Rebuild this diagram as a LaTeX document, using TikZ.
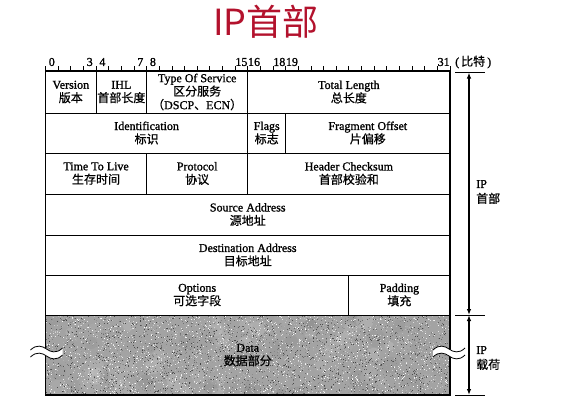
\documentclass[tikz,border=0pt]{standalone}
\usepackage{fontspec}
\setmainfont{Liberation Serif}[FakeBold=1.2]
\newfontfamily\zhfont{Noto Sans CJK SC}[FakeBold=0.6]
\newfontfamily\titlefont{Noto Sans CJK SC}
\usetikzlibrary{arrows.meta}
\definecolor{titlered}{HTML}{B3122D}

% Chinese text inside a cell
\newcommand\zhtxt[1]{{\zhfont #1}}

% one header field: name, first bit, end bit, top y, bottom y, text
\newcommand\fieldcell[6]{%
  \pgfmathsetmacro\fxa{45.5+12.64*#2}%
  \pgfmathsetmacro\fxb{45.5+12.64*#3}%
  \pgfmathsetmacro\fw{\fxb-\fxa}%
  \pgfmathsetmacro\fh{#5-#4}%
  \pgfmathsetmacro\fcx{(\fxa+\fxb)/2}%
  \pgfmathsetmacro\fcy{(#4+#5)/2}%
  \node[field, minimum width=\fw pt, minimum height=\fh pt] (#1) at (\fcx,\fcy) {#6};%
}

% wavy break mark centred on a border line
\newcommand\breakmark[2]{%
  \begin{scope}[shift={(#1,#2)}]
    \fill[white] (-16,-2) .. controls (-10,-8) and (-4,-6) .. (0,-3)
      .. controls (4,0) and (10,2) .. (16,-4) -- (16,3)
      .. controls (10,9) and (4,7) .. (0,4)
      .. controls (-4,1) and (-10,-1) .. (-16,5) -- cycle;
    \draw[wave] (-16,-2) .. controls (-10,-8) and (-4,-6) .. (0,-3)
      .. controls (4,0) and (10,2) .. (16,-4);
    \draw[wave] (-16,5) .. controls (-10,-1) and (-4,1) .. (0,4)
      .. controls (4,7) and (10,9) .. (16,3);
  \end{scope}%
}

\begin{document}
\begin{tikzpicture}[x=1pt,y=-1pt,
  field/.style={draw, line width=0.8pt, inner sep=0pt, align=center,
    font=\fontsize{12}{13.5}\selectfont},
  outer/.style={draw, line width=1.8pt},
  wave/.style={line width=0.8pt},
  tick/.style={line width=0.8pt},
  bitnum/.style={font=\fontsize{12}{12}\selectfont, inner sep=0pt},
  side/.style={font=\fontsize{12}{15}\selectfont, align=left, inner sep=0pt, anchor=west},
  bar/.style={line width=0.9pt},
  span/.style={line width=1.3pt, {Latex[length=6pt,width=4.5pt]}-{Latex[length=6pt,width=4.5pt]}}
]
\useasboundingbox (0,0) rectangle (569,413);

% title
\node[text=titlered, font=\titlefont\fontsize{36}{36}\selectfont, inner sep=0pt] (title) at (266,22) {IP首部};

% bit ruler
\foreach \n in {0,...,32}{
  \pgfmathsetmacro\tx{45.5+12.64*\n}
  \draw[tick] (\tx,71) -- (\tx,66);
}
\foreach \n in {0,3,4,7,8,15,16,18,19,31}{
  \pgfmathsetmacro\tx{45.5+12.64*(\n+0.5)}
  \node[bitnum] (bit\n) at (\tx,62) {\n};
}
\node[font=\fontsize{12}{12}\selectfont, inner sep=0pt, anchor=west] (unit) at (455,62) {(\,\zhtxt{比特}\,)};

% data area with speckled fill
\pgfmathsetseed{7}
\begin{scope}
  \clip (45.5,315) rectangle (450,395);
  \fill[black!36] (45.5,315) rectangle (450,395);
  \foreach \k in {1,...,120}{
    \pgfmathsetmacro\nx{45.5+404.5*rnd}
    \pgfmathsetmacro\ny{315+80*rnd}
    \pgfmathsetmacro\ng{40+60*rnd}
    \fill[white!\ng!black, opacity=0.15] (\nx,\ny) circle (4+5*rnd);
  }
  \foreach \k in {1,...,5500}{
    \pgfmathsetmacro\nx{45.5+404.5*rnd}
    \pgfmathsetmacro\ny{315+80*rnd}
    \pgfmathsetmacro\ng{25+75*rnd}
    \fill[white!\ng!black] (\nx,\ny) rectangle ++(0.9,0.9);
  }
\end{scope}

% header fields
\fieldcell{ver}{0}{4}{71}{113}{Version\\\zhtxt{版本}}
\fieldcell{ihl}{4}{8}{71}{113}{IHL\\\zhtxt{首部长度}}
\fieldcell{tos}{8}{16}{71}{113}{Type Of Service\\\zhtxt{区分服务}\\\zhtxt{（}DSCP\zhtxt{、}ECN\zhtxt{）}}
\fieldcell{tlen}{16}{32}{71}{113}{Total Length\\\zhtxt{总长度}}
\fieldcell{ident}{0}{16}{113}{153}{Identification\\\zhtxt{标识}}
\fieldcell{flags}{16}{19}{113}{153}{Flags\\\zhtxt{标志}}
\fieldcell{frag}{19}{32}{113}{153}{Fragment Offset\\\zhtxt{片偏移}}
\fieldcell{ttl}{0}{8}{153}{194}{Time To Live\\\zhtxt{生存时间}}
\fieldcell{proto}{8}{16}{153}{194}{Protocol\\\zhtxt{协议}}
\fieldcell{csum}{16}{32}{153}{194}{Header Checksum\\\zhtxt{首部校验和}}
\fieldcell{src}{0}{32}{194}{235}{Source Address\\\zhtxt{源地址}}
\fieldcell{dst}{0}{32}{235}{275}{Destination Address\\\zhtxt{目标地址}}
\fieldcell{opts}{0}{24}{275}{315}{Options\\\zhtxt{可选字段}}
\fieldcell{pad}{24}{32}{275}{315}{Padding\\\zhtxt{填充}}
\fieldcell{data}{0}{32}{315}{395}{Data\\\zhtxt{数据部分}}

% outer frame
\draw[outer] (45.5,71) rectangle (450,395);

% break marks on the data area
\breakmark{46.5}{352}
\breakmark{449}{352}

% header / payload extent
\coordinate (hdrtop) at (469,72.5);
\coordinate (hdrbot) at (469,315);
\coordinate (paybot) at (469,395);
\draw[bar] (455,72.5) -- (485,72.5);
\draw[bar] (455,315) -- (485,315);
\draw[bar] (455,395) -- (485,395);
\draw[span] (hdrtop) -- (hdrbot);
\draw[span] (hdrbot) -- (paybot);
\node[side] (hdrlabel) at (476,192) {IP\\\zhtxt{首部}};
\node[side] (paylabel) at (476,358) {IP\\\zhtxt{载荷}};
\end{tikzpicture}
\end{document}
